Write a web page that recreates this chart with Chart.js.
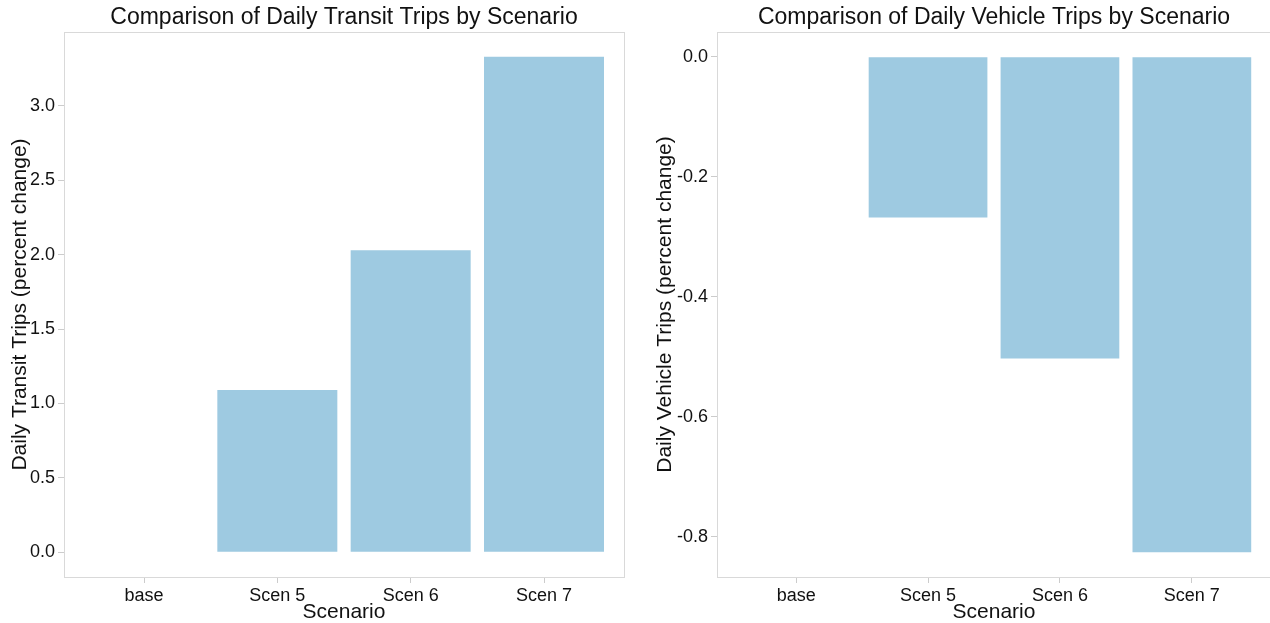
<!DOCTYPE html>
<html>
<head>
<meta charset="utf-8">
<script src="https://cdn.jsdelivr.net/npm/chart.js@4.4.0/dist/chart.umd.min.js"></script>
<style>
  html, body { margin: 0; padding: 0; background: #fff; overflow: hidden; }
  .panel { position: absolute; top: 0; }
</style>
</head>
<body>
<div class="panel" style="left:0px"><canvas id="transit" width="640" height="623"></canvas></div>
<div class="panel" style="left:640px"><canvas id="vehicle" width="640" height="623"></canvas></div>
<script>
// Data
const scenarios = ["base", "Scen 5", "Scen 6", "Scen 7"];
const transitChange = [0, 1.09, 2.03, 3.33];
const vehicleChange = [0, -0.268, -0.503, -0.826];
const transitTicks = [0, 0.5, 1.0, 1.5, 2.0, 2.5, 3.0];
const vehicleTicks = [0, -0.2, -0.4, -0.6, -0.8];

const FONT = "'Liberation Sans', Arial, sans-serif";
const barColor = "#9ecae1";

// grey box round the plot panel, like ggplot
const panelBorder = {
  id: "panelBorder",
  afterDraw(chart) {
    const { ctx, chartArea } = chart;
    ctx.save();
    ctx.strokeStyle = "#d9d9d9";
    ctx.lineWidth = 1;
    ctx.strokeRect(chartArea.left + 0.5, chartArea.top + 0.5,
      chartArea.right - chartArea.left, chartArea.bottom - chartArea.top);
    ctx.restore();
  },
};

function makeChart(id, title, yTitle, values, ticks, yMin, yMax, yWidth, padRight, yTitlePad) {
  const ctx = document.getElementById(id).getContext("2d");
  return new Chart(ctx, {
    type: "bar",
    data: {
      datasets: [
        {
          data: values.map((v, i) => ({ x: i + 1, y: v })),
          backgroundColor: barColor,
          borderWidth: 0,
          categoryPercentage: 0.9,
          barPercentage: 1.0,
        },
      ],
    },
    options: {
      responsive: false,
      animation: false,
      layout: { padding: { left: 0, right: padRight, top: 0, bottom: 0 } },
      plugins: {
        legend: { display: false },
        tooltip: { enabled: false },
        title: {
          display: true,
          text: title,
          fullSize: false,
          color: "#111",
          font: { family: FONT, size: 23, weight: "normal", lineHeight: 1.1 },
          padding: { top: 5.5, bottom: 1.2 },
        },
      },
      scales: {
        x: {
          type: "linear",
          min: 0.4,
          max: 4.6,
          offset: false,
          grid: { offset: false, drawOnChartArea: false, drawTicks: true, tickLength: 6, tickColor: "#cccccc" },
          border: { display: false },
          afterBuildTicks: (scale) => {
            scale.ticks = scenarios.map((s, i) => ({ value: i + 1 }));
          },
          ticks: {
            color: "#111",
            padding: 2,
            autoSkip: false,
            maxRotation: 0,
            font: { family: FONT, size: 18 },
            callback: (v) => scenarios[v - 1],
          },
          title: {
            display: true,
            text: "Scenario",
            color: "#111",
            font: { family: FONT, size: 21, lineHeight: 1.0 },
            padding: { top: 0, bottom: 0 },
          },
          afterFit: (scale) => { scale.height = 46; },
        },
        y: {
          min: yMin,
          max: yMax,
          grid: { drawOnChartArea: false, drawTicks: true, tickLength: 6, tickColor: "#cccccc" },
          border: { display: false },
          afterBuildTicks: (scale) => {
            scale.ticks = ticks.map((t) => ({ value: t }));
          },
          ticks: {
            color: "#111",
            padding: 3,
            font: { family: FONT, size: 18 },
            callback: (v) => Number(v).toFixed(1),
          },
          title: {
            display: true,
            text: yTitle,
            color: "#111",
            font: { family: FONT, size: 21, lineHeight: 1.0 },
            padding: { top: yTitlePad, bottom: 0 },
          },
          afterFit: (scale) => { scale.width = yWidth; },
        },
      },
    },
    plugins: [panelBorder],
  });
}

makeChart("transit", "Comparison of Daily Transit Trips by Scenario",
  "Daily Transit Trips (percent change)", transitChange, transitTicks,
  -0.1665, 3.4965, 64, 16, 10);

makeChart("vehicle", "Comparison of Daily Vehicle Trips by Scenario",
  "Daily Vehicle Trips (percent change)", vehicleChange, vehicleTicks,
  -0.8673, 0.0413, 77, 9, 15);
</script>
</body>
</html>
